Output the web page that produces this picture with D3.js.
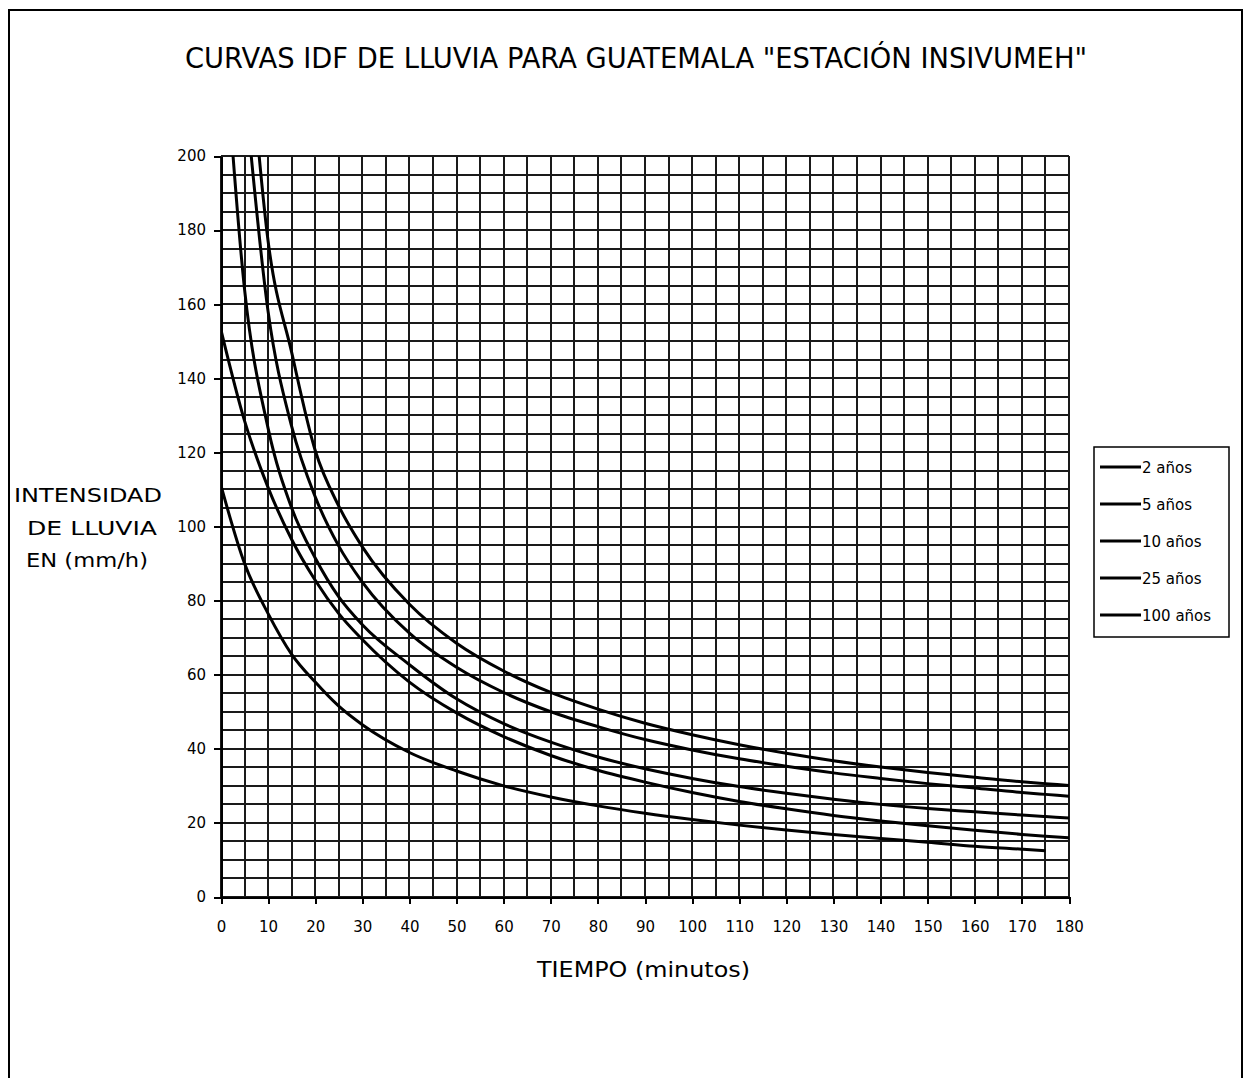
<!DOCTYPE html>
<html>
<head>
<meta charset="utf-8">
<script src="https://cdn.jsdelivr.net/npm/d3@7"></script>
<style>
  body { margin: 0; background: #fff; }
  text { font-family: "DejaVu Sans", Verdana, sans-serif; fill: #000; }
  .grid line { stroke: #1a1a1a; stroke-width: 2; shape-rendering: crispEdges; }
  .axis path, .axis line { stroke: #000; stroke-width: 2; shape-rendering: crispEdges; }
  .curve { fill: none; stroke: #000; stroke-width: 3; }
</style>
</head>
<body>
<svg id="chart" width="1246" height="1078"></svg>
<script>
// tiempo en minutos
const tiempo = [0, 5, 10, 15, 20, 25, 30, 40, 50, 60, 70, 80, 90, 100, 110, 120, 130, 140, 150, 160, 170, 175, 180];

// intensidad (mm/h), por periodo de retorno
const i2   = [111, 90, 76.5, 65.5, 58, 51.5, 46.5, 39, 34, 30, 27, 24.6, 22.6, 20.9, 19.4, 18.1, 16.9, 15.8, 14.8, 13.7, 12.9, 12.5, null];
const i5   = [153, 128.5, 110.5, 96.5, 85.5, 76.5, 69.5, 58, 49.7, 43.3, 38.2, 34.2, 31, 28.2, 25.8, 23.8, 22, 20.5, 19.2, 18, 16.9, 16.4, 16];
const i10  = [245, 164, 126.5, 105, 91.5, 81, 73.5, 62.7, 53.5, 46.8, 41.8, 37.8, 34.6, 32, 29.8, 28, 26.4, 25, 23.9, 23, 22.1, 21.7, 21.3];
const i25  = [null, 219, 158, 127, 108, 94.7, 85, 71.2, 62, 55.2, 50, 46, 42.5, 39.7, 37.3, 35.3, 33.5, 32, 30.6, 29.4, 28.2, 27.7, 27.2];
const i100 = [null, 246, 177, 147, 120.5, 105.5, 94.5, 79, 68.5, 61, 55.2, 50.7, 46.9, 43.8, 41.1, 38.8, 36.8, 35.1, 33.6, 32.3, 31.1, 30.6, 30.1];

const seriesNames = ["2 años", "5 años", "10 años", "25 años", "100 años"];
const seriesValues = [i2, i5, i10, i25, i100];

const xTicks = d3.range(0, 181, 10);
const yTicks = d3.range(0, 201, 20);

const svg = d3.select("#chart");

// marco exterior
svg.append("rect")
  .attr("x", 9).attr("y", 10)
  .attr("width", 1233).attr("height", 1080)
  .attr("fill", "none").attr("stroke", "#000").attr("stroke-width", 2);

// titulo
svg.append("text")
  .attr("x", 636).attr("y", 68)
  .attr("text-anchor", "middle")
  .attr("font-size", 28)
  .attr("textLength", 902)
  .attr("lengthAdjust", "spacingAndGlyphs")
  .text('CURVAS IDF DE LLUVIA PARA GUATEMALA "ESTACIÓN INSIVUMEH"');

const x = d3.scaleLinear().domain([0, 180]).range([221, 1069]);
const y = d3.scaleLinear().domain([0, 200]).range([897, 156]);

// cuadricula cada 5 unidades
const grid = svg.append("g").attr("class", "grid");
grid.selectAll(".v").data(d3.range(0, 181, 5)).enter().append("line")
  .attr("x1", d => x(d)).attr("x2", d => x(d))
  .attr("y1", y(200)).attr("y2", y(0));
grid.selectAll(".h").data(d3.range(0, 201, 5)).enter().append("line")
  .attr("x1", x(0)).attr("x2", x(180))
  .attr("y1", d => y(d)).attr("y2", d => y(d));

// ejes
svg.append("g").attr("class", "axis")
  .attr("transform", `translate(0,${y(0)})`)
  .call(d3.axisBottom(x).tickValues(xTicks).tickSize(7).tickPadding(17).tickSizeOuter(0))
  .call(g => g.selectAll("text").attr("font-size", 15));

svg.append("g").attr("class", "axis")
  .attr("transform", `translate(${x(0)},0)`)
  .call(d3.axisLeft(y).tickValues(yTicks).tickSize(7).tickPadding(8).tickSizeOuter(0))
  .call(g => g.selectAll("text").attr("font-size", 15));

// curvas
svg.append("clipPath").attr("id", "plotClip")
  .append("rect")
  .attr("x", x(0)).attr("y", y(200))
  .attr("width", x(180) - x(0)).attr("height", y(0) - y(200));

const line = d3.line()
  .defined(d => d[1] != null)
  .x(d => x(d[0]))
  .y(d => y(d[1]))
  .curve(d3.curveMonotoneX);

svg.append("g").attr("clip-path", "url(#plotClip)")
  .selectAll("path").data(seriesValues).enter().append("path")
  .attr("class", "curve")
  .attr("d", vals => line(tiempo.map((t, i) => [t, vals[i]])));

// titulos de ejes
const yTitle = [["INTENSIDAD", 14, 502, 148], ["DE LLUVIA", 27, 535, 130], ["EN (mm/h)", 26, 567, 122]];
svg.selectAll(".ytitle").data(yTitle).enter().append("text")
  .attr("x", d => d[1]).attr("y", d => d[2])
  .attr("font-size", 20)
  .attr("textLength", d => d[3])
  .attr("lengthAdjust", "spacingAndGlyphs")
  .text(d => d[0]);

svg.append("text")
  .attr("x", 537).attr("y", 977)
  .attr("font-size", 21)
  .attr("textLength", 213)
  .attr("lengthAdjust", "spacingAndGlyphs")
  .text("TIEMPO (minutos)");

// leyenda
const legendG = svg.append("g");
legendG.append("rect")
  .attr("x", 1094).attr("y", 447)
  .attr("width", 135).attr("height", 190)
  .attr("fill", "#fff").attr("stroke", "#000").attr("stroke-width", 1.5);

const items = legendG.selectAll(".legend").data(seriesNames).enter().append("g")
  .attr("transform", (d, i) => `translate(0,${467 + i * 37})`);
items.append("line")
  .attr("x1", 1100).attr("x2", 1141)
  .attr("stroke", "#000").attr("stroke-width", 3);
items.append("text")
  .attr("x", 1142).attr("y", 5.5)
  .attr("font-size", 15)
  .text(d => d);
</script>
</body>
</html>
